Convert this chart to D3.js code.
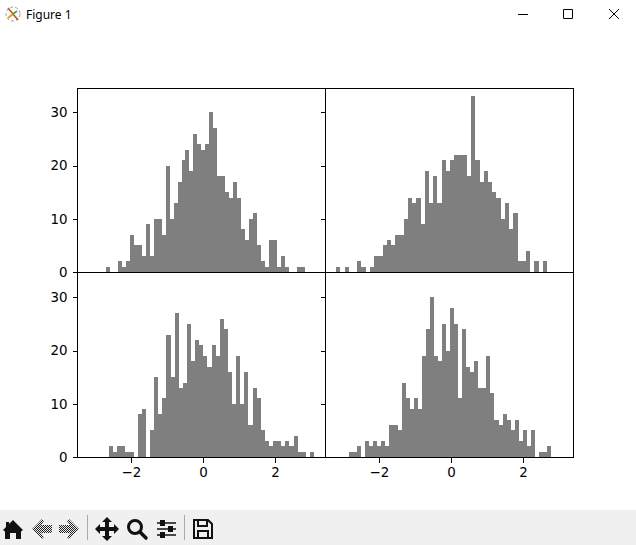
<!DOCTYPE html>
<html><head><meta charset="utf-8">
<script src="https://cdn.jsdelivr.net/npm/d3@7"></script>
<style>html,body{margin:0;padding:0;background:#fff;overflow:hidden}svg{display:block}</style>
</head><body><svg id="c" width="636" height="545"></svg>
<script>
const countsA=[1,0,0,2,1,2,7,5,5,3,9,3,10,10,7,20,10,13,17,21,23,19,26,24,23,24,30,27,18,18,15,14,17,14,8,6,10,11,5,2,1,6,6,1,3,1,0,0,1,1];
const countsB=[1,0,1,0,0,2,1,0,1,3,3,5,6,5,7,7,10,14,13,14,9,19,13,18,13,21,19,21,22,22,22,18,33,21,17,19,17,15,14,10,13,8,11,2,2,4,0,2,0,2];
const countsC=[2,1,2,2,1,1,0,8,9,0,5,15,8,11,23,15,27,13,14,25,18,22,21,19,17,21,19,26,24,16,10,19,10,16,6,13,11,5,3,2,3,3,2,3,2,4,1,1,0,1];
const countsD=[1,1,2,0,3,2,3,2,3,2,6,6,5,14,11,9,11,9,19,24,30,19,18,25,20,28,25,11,24,17,16,18,13,13,19,12,7,6,8,7,5,7,3,5,2,5,0,1,1,2];
const binRanges=[[-2.71,2.815],[-3.205,2.655],[-2.625,3.07],[-2.845,2.765]];
const xTicks=[-2,0,2];
const yTicks=[0,10,20,30];
const xDomain=[-3.5,3.389];
const yDomain=[0,34.59];
const windowTitle="Figure 1";

const svg=d3.select("#c");
const panelsData=[countsA,countsB,countsC,countsD];
const lefts=[77.5,325.5], tops=[88.5,272.5], w=248, spineH=[184,185], plotH=184;

panelsData.forEach((counts,i)=>{
  const col=i%2,row=i>>1;
  const x0=lefts[col],y0=tops[row],h=spineH[row];
  const x=d3.scaleLinear().domain(xDomain).range([x0,x0+w]);
  const y=d3.scaleLinear().domain(yDomain).range([y0+h,y0+h-plotH]);
  const g=svg.append("g");
  g.append("rect").attr("x",x0).attr("y",y0).attr("width",w).attr("height",h).attr("fill","#fff");
  const [lo,hi]=binRanges[i];
  const bw=(hi-lo)/counts.length;
  g.append("g").attr("fill","#7f7f7f").attr("shape-rendering","crispEdges")
    .selectAll("rect").data(counts).join("rect")
    .attr("x",(d,k)=>x(lo+k*bw))
    .attr("width",(d,k)=>x(lo+(k+1)*bw)-x(lo+k*bw))
    .attr("y",d=>y(d)-0.5).attr("height",d=>y(0)-y(d));
  const ax=g.append("g").attr("transform",`translate(${x0},0)`)
    .call(d3.axisLeft(y).offset(0).tickValues(yTicks).tickSize(5).tickPadding(5)
      .tickFormat(col===0?d3.format("d"):""));
  const ab=g.append("g").attr("transform",`translate(0,${y0+h})`)
    .call(d3.axisBottom(x).offset(0).tickValues(xTicks).tickSize(5).tickPadding(5).tickFormat(d3.format("d")));
  if(row===0) ab.selectAll("text").remove();
  [ax,ab].forEach(a=>{
    a.select(".domain").remove();
    a.selectAll("line").attr("stroke","#000").attr("stroke-width",1).attr("shape-rendering","crispEdges");
    a.selectAll("text").attr("fill","#000").attr("font-family","'DejaVu Sans'").attr("font-size","13.4px");
  });
  g.append("rect").attr("x",x0).attr("y",y0).attr("width",w).attr("height",h)
    .attr("fill","none").attr("stroke","#000").attr("stroke-width",1).attr("shape-rendering","crispEdges");
});

/* window title bar */
const tb=svg.append("g");
tb.append("circle").attr("cx",13).attr("cy",14).attr("r",7).attr("fill","none").attr("stroke","#999").attr("stroke-width",1).attr("stroke-dasharray","3 2");
tb.append("path").attr("d","M8 8L18 20").attr("stroke","#c05020").attr("stroke-width",1.6);
tb.append("path").attr("d","M8 18L13 14").attr("stroke","#e0a020").attr("stroke-width",2);
tb.append("path").attr("d","M13 14L17 11").attr("stroke","#50a040").attr("stroke-width",1.6);
tb.append("text").attr("x",26).attr("y",19).attr("font-family","'Noto Sans'").attr("font-size","12px").attr("fill","#000").text(windowTitle);
tb.append("path").attr("d","M518 14.5H528M563.5 9.5H572.5V18.5H563.5ZM609 9L619 19M619 9L609 19").attr("fill","none").attr("stroke","#000").attr("stroke-width",1);

/* toolbar */
const bar=svg.append("g");
bar.append("rect").attr("x",0).attr("y",510).attr("width",636).attr("height",35).attr("fill","#f0f0f0");
const defs=svg.append("defs");
const pat=defs.append("pattern").attr("id","dith").attr("width",2).attr("height",2).attr("patternUnits","userSpaceOnUse");
pat.append("rect").attr("width",2).attr("height",2).attr("fill","#f0f0f0");
pat.append("rect").attr("width",1).attr("height",1).attr("fill","#222");
pat.append("rect").attr("x",1).attr("y",1).attr("width",1).attr("height",1).attr("fill","#222");
bar.append("path").attr("fill","#111").attr("d","M13 520L23 530L21 531.5L21 539L16 539L16 533L10 533L10 539L5 539L5 531.5L3 530L6 527L6 522L9 522L9 524Z");
bar.append("path").attr("fill","url(#dith)").attr("d","M32 529L42 519L44 521L41 525L52 525L52 533L41 533L44 537L42 539Z");
bar.append("path").attr("fill","url(#dith)").attr("d","M79 529L69 519L67 521L70 525L59 525L59 533L70 533L67 537L69 539Z");
bar.append("path").attr("stroke","#aaa").attr("stroke-width",1).attr("d","M87.5 515V540M184.5 515V540");
bar.append("path").attr("fill","#111").attr("d","M107 517L112 522L109 522L109 527L114 527L114 524L119 529L114 534L114 531L109 531L109 536L112 536L107 541L102 536L105 536L105 531L100 531L100 534L95 529L100 524L100 527L105 527L105 522L102 522Z");
bar.append("circle").attr("cx",135).attr("cy",527).attr("r",6.5).attr("fill","none").attr("stroke","#111").attr("stroke-width",3);
bar.append("path").attr("d","M140 532L146 538").attr("stroke","#111").attr("stroke-width",3.5).attr("stroke-linecap","round");
bar.append("path").attr("stroke","#111").attr("stroke-width",1.5).attr("d","M157 523H176M157 529H176M157 535H176");
bar.append("path").attr("fill","#111").attr("d","M160 520h5v6h-5ZM168 526h5v6h-5ZM160 532h5v6h-5Z");
bar.append("path").attr("fill","none").attr("stroke","#111").attr("stroke-width",2).attr("d","M194 520H208L212 524V538H194ZM198 520V526H207V520M198 538V531H208V538");
</script></body></html>
